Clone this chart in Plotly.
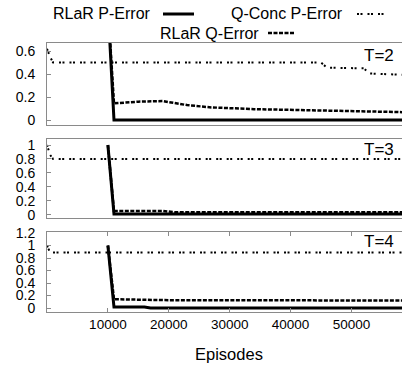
import plotly.graph_objects as go

# ---------------- data ----------------
rlar_p_x_t2 = [10000, 11000, 20000, 40000, 60000]
rlar_p_y_t2 = [1.0, 0.0, 0.0, 0.0, 0.0]
rlar_q_x_t2 = [10000, 11000, 15000, 19000, 23000, 27000, 34000, 41000, 45000, 50000, 55000, 60000]
rlar_q_y_t2 = [1.0, 0.145, 0.16, 0.165, 0.13, 0.11, 0.095, 0.087, 0.08, 0.076, 0.07, 0.067]
qconc_x_t2 = [0, 500, 1000, 45000, 46000, 52000, 53000, 60000]
qconc_y_t2 = [0.62, 0.55, 0.5, 0.5, 0.455, 0.45, 0.405, 0.39]

rlar_p_x_t3 = [10000, 11000, 20000, 40000, 60000]
rlar_p_y_t3 = [1.0, 0.01, 0.01, 0.01, 0.01]
rlar_q_x_t3 = [10000, 11000, 19000, 21000, 40000, 60000]
rlar_q_y_t3 = [1.0, 0.055, 0.055, 0.035, 0.034, 0.034]
qconc_x_t3 = [0, 500, 1000, 60000]
qconc_y_t3 = [1.0, 0.86, 0.8, 0.8]

rlar_p_x_t4 = [10000, 11000, 16000, 17000, 60000]
rlar_p_y_t4 = [1.0, 0.015, 0.015, 0.0, 0.0]
rlar_q_x_t4 = [10000, 11000, 20000, 40000, 60000]
rlar_q_y_t4 = [1.0, 0.14, 0.125, 0.125, 0.12]
qconc_x_t4 = [0, 500, 1000, 60000]
qconc_y_t4 = [1.0, 0.89, 0.89, 0.89]

x_ticks = [10000, 20000, 30000, 40000, 50000]
panel_labels = ["T=2", "T=3", "T=4"]
legend_names = ["RLaR P-Error", "Q-Conc P-Error", "RLaR Q-Error"]

# ---------------- layout helpers ----------------
W, H = 402, 371
L, R, T, B = 47, 0, 43, 59
PW, PH = W - L - R, H - T - B

def px(x):
    return (x - L) / PW

def py(y):
    return (H - B - y) / PH

FONT = "Liberation Sans, Arial, Helvetica, sans-serif"
SOLID = dict(color="black", width=3)
DOTS = dict(color="black", width=2, dash="2px,1.5px,2px,5px")
DASH = dict(color="black", width=2.5, dash="4px,1.5px")

fig = go.Figure()

panels = [
    (rlar_p_x_t2, rlar_p_y_t2, rlar_q_x_t2, rlar_q_y_t2, qconc_x_t2, qconc_y_t2),
    (rlar_p_x_t3, rlar_p_y_t3, rlar_q_x_t3, rlar_q_y_t3, qconc_x_t3, qconc_y_t3),
    (rlar_p_x_t4, rlar_p_y_t4, rlar_q_x_t4, rlar_q_y_t4, qconc_x_t4, qconc_y_t4),
]
for i, (pxs, pys, qxs, qys, cxs, cys) in enumerate(panels):
    xa = "x" if i == 0 else f"x{i+1}"
    ya = "y" if i == 0 else f"y{i+1}"
    fig.add_trace(go.Scatter(x=cxs, y=cys, mode="lines", line=DOTS, xaxis=xa, yaxis=ya,
                             name=legend_names[1], showlegend=False))
    fig.add_trace(go.Scatter(x=qxs, y=qys, mode="lines", line=DASH, xaxis=xa, yaxis=ya,
                             name=legend_names[2], showlegend=False))
    fig.add_trace(go.Scatter(x=pxs, y=pys, mode="lines", line=SOLID, xaxis=xa, yaxis=ya,
                             name=legend_names[0], showlegend=False))

XR = [0, 58300]
AX = "#8a8a8a"
common_x = dict(range=XR, showgrid=False, zeroline=False, showline=True, linecolor=AX,
                linewidth=1, mirror=True)
common_y = dict(showgrid=False, zeroline=False, showline=True, linecolor=AX, linewidth=1,
                ticks="inside", ticklen=4, tickcolor=AX, mirror=False,
                tickfont=dict(family=FONT, size=14, color="black"), ticklabelstandoff=8)

doms = [[py(125), 1.0], [py(218), py(139)], [0.0, py(232)]]
yranges = [[-0.043, 0.67], [-0.047, 1.086], [-0.064, 1.216]]
yticks = [[0, 0.2, 0.4, 0.6], [0, 0.2, 0.4, 0.6, 0.8, 1], [0, 0.2, 0.4, 0.6, 0.8, 1, 1.2]]
ytext = [["0", "0.2", "0.4", "0.6"], ["0", "0.2", "0.4", "0.6", "0.8", "1"],
         ["0", "0.2", "0.4", "0.6", "0.8", "1", "1.2"]]

lay = {}
for i in range(3):
    xk = "xaxis" if i == 0 else f"xaxis{i+1}"
    yk = "yaxis" if i == 0 else f"yaxis{i+1}"
    ya = "y" if i == 0 else f"y{i+1}"
    xa = "x" if i == 0 else f"x{i+1}"
    xd = dict(common_x, anchor=ya, domain=[0, 1])
    if i == 2:
        xd.update(ticks="inside", ticklen=4, tickcolor=AX, mirror="ticks",
                  tickvals=x_ticks, ticktext=[str(v) for v in x_ticks],
                  tickfont=dict(family=FONT, size=13.5, color="black"))
    else:
        xd.update(showticklabels=False, ticks="")
    lay[xk] = xd
    lay[yk] = dict(common_y, anchor=xa, domain=doms[i], range=yranges[i],
                   tickvals=yticks[i], ticktext=ytext[i])

fig.update_layout(**lay)

ann = []
shapes = []
# panel labels
for lbl, yc in zip(panel_labels, [55, 149, 241.5]):
    ann.append(dict(text=lbl, x=px(396), y=py(yc), xref="paper", yref="paper",
                    xanchor="right", yanchor="middle", showarrow=False,
                    font=dict(family=FONT, size=17, color="black")))
# x axis title
ann.append(dict(text="Episodes", x=px(229), y=py(354), xref="paper", yref="paper",
                xanchor="center", yanchor="middle", showarrow=False,
                font=dict(family=FONT, size=16.5, color="black")))
# legend (key) text and samples
key = [
    (legend_names[0], 153, 14, 163, 194, SOLID),
    (legend_names[1], 345, 14, 357, 388, DOTS),
    (legend_names[2], 261, 33, 268, 295, DASH),
]
for name, tx, ty, x0, x1, ln in key:
    ann.append(dict(text=name, x=px(tx), y=py(ty), xref="paper", yref="paper",
                    xanchor="right", yanchor="middle", showarrow=False,
                    font=dict(family=FONT, size=16, color="black")))
    shapes.append(dict(type="line", xref="paper", yref="paper", x0=px(x0), x1=px(x1),
                       y0=py(ty), y1=py(ty), line=ln))

fig.update_layout(width=W, height=H, margin=dict(l=L, r=R, t=T, b=B, pad=0),
                  plot_bgcolor="white", paper_bgcolor="white", showlegend=False,
                  annotations=ann, shapes=shapes)

fig.write_html("out.html", config={"displayModeBar": False},
               post_script="document.body.style.margin='0';document.body.style.overflow='hidden';")
